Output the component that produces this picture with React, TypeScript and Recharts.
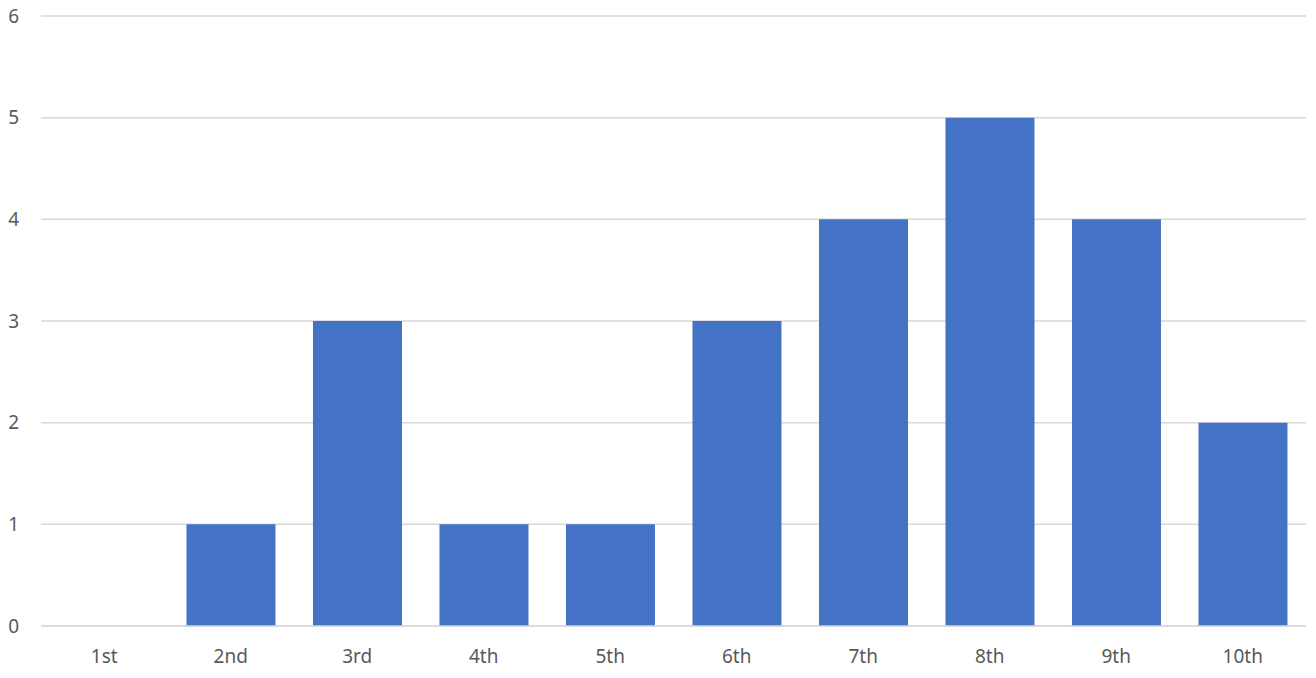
import { BarChart, Bar, XAxis, YAxis, CartesianGrid } from 'recharts';

const places = ['1st', '2nd', '3rd', '4th', '5th', '6th', '7th', '8th', '9th', '10th'];
const counts = [0, 1, 3, 1, 1, 3, 4, 5, 4, 2];
const yTicks = [0, 1, 2, 3, 4, 5, 6];

const data = places.map((place, i) => ({ place, count: counts[i] }));

const tickStyle = { fill: '#595959', fontSize: 19, fontFamily: '"Noto Sans", sans-serif' };

export default function App() {
  return (
    <div style={{ position: 'fixed', left: 0, top: 0, width: 1316, height: 678, background: '#fff' }}>
      <BarChart
        width={1316}
        height={678}
        data={data}
        margin={{ top: 16, right: 10, bottom: 0, left: 0 }}
        barCategoryGap="15%"
      >
        <CartesianGrid vertical={false} stroke="#d9d9d9" strokeWidth={1.5} />
        <XAxis
          dataKey="place"
          height={52}
          axisLine={{ stroke: '#d9d9d9', strokeWidth: 1.5 }}
          tickLine={false}
          tickSize={0}
          tickMargin={24}
          tick={tickStyle}
        />
        <YAxis
          width={41}
          domain={[0, 6]}
          ticks={yTicks}
          axisLine={false}
          tickLine={false}
          tickSize={0}
          tickMargin={22}
          tick={tickStyle}
        />
        <Bar dataKey="count" fill="#4472c4" isAnimationActive={false} />
      </BarChart>
    </div>
  );
}
